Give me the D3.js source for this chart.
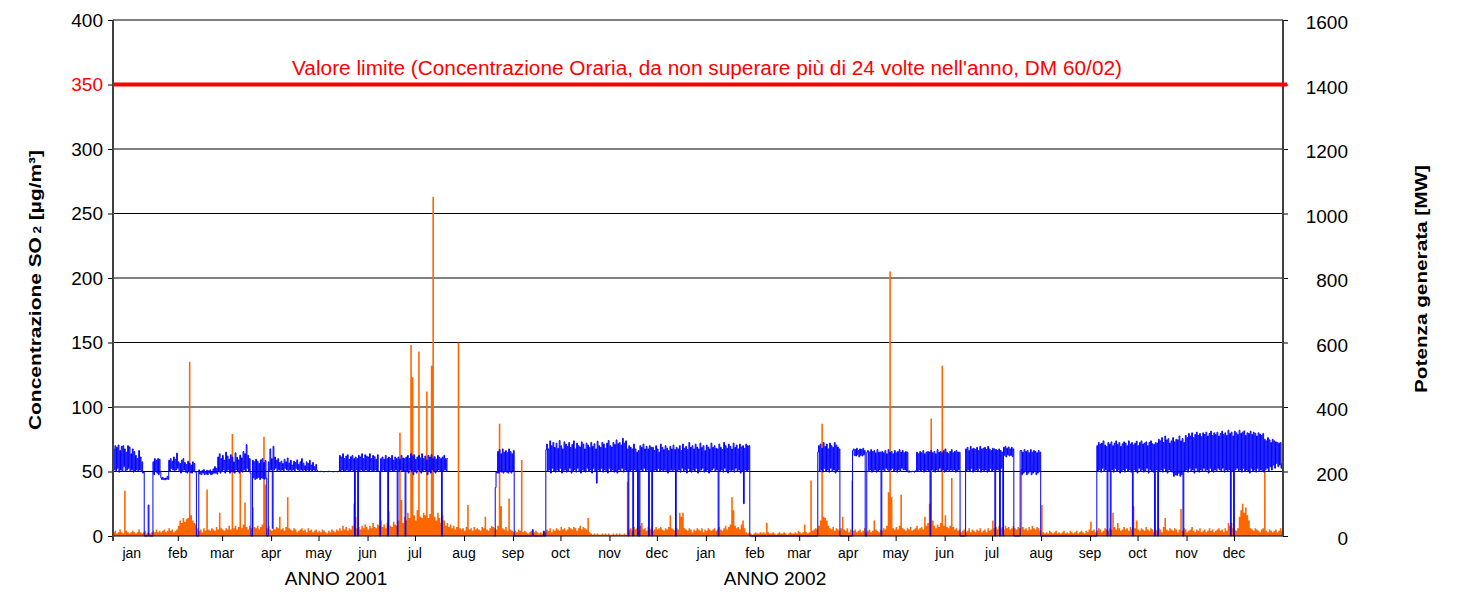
<!DOCTYPE html>
<html lang="it">
<head>
<meta charset="UTF-8">
<title>SO2 e potenza generata</title>
<script src="https://cdn.jsdelivr.net/npm/d3@7"></script>
<style>
  html, body { margin: 0; padding: 0; background: #fff; }
</style>
</head>
<body>
<div id="chart"></div>
<script>
// asse sinistro: concentrazione SO2 [µg/m3]
const so2Ticks = [0, 50, 100, 150, 200, 250, 300, 350, 400];
// asse destro: potenza generata [MW]
const powerTicks = [0, 200, 400, 600, 800, 1000, 1200, 1400, 1600];
const limitValue = 350;
const limitLabel = "Valore limite (Concentrazione Oraria, da non superare più di 24 volte nell'anno, DM 60/02)";
const monthNames = ['jan', 'feb', 'mar', 'apr', 'may', 'jun', 'jul', 'aug', 'sep', 'oct', 'nov', 'dec'];
const yearLabels = ['ANNO 2001', 'ANNO 2002'];

// SO2, massimo giornaliero (giorno 0 = 22/12/2000)
const so2 = [
  3,4,2,3,5,3,2,35,4,3, 2,3,4,3,2,3,5,3,2,3, 4,2,3,2,3,4,3,5,3,4, 3,4,5,3,4,6,4,5,3,4,
  5,8,12,10,14,11,13,14,135,16, 12,10,9,6,4,5,3,6,4,36, 5,4,6,5,4,7,5,18,6,5, 4,6,5,8,5,79,6,8,5,7,
  63,6,9,26,7,5,8,6,22,7, 6,8,5,7,9,77,40,6,8,5, 4,6,5,7,6,15,5,6,4,7, 30,6,5,4,6,5,3,4,5,6,
  4,5,3,6,4,5,3,4,5,3, 4,3,5,4,3,2,4,3,5,4, 3,5,4,6,4,8,5,7,4,6, 5,8,25,15,6,7,5,8,6,9,
  7,5,8,6,10,7,6,9,8,12, 7,9,6,10,19,8,7,11,9,8, 12,80,28,10,15,12,18,14,148,123, 16,12,20,143,15,14,18,16,112,14,
  17,132,263,15,12,18,14,10,16,12, 8,10,7,9,6,8,5,7,150,6, 5,6,4,7,24,5,6,4,7,5, 6,5,4,7,6,15,5,4,6,8,
  7,6,5,8,87,23,6,5,7,4, 29,5,4,3,4,3,5,4,59,3, 4,3,2,3,4,2,3,4,3,2, 3,2,4,3,5,4,6,3,5,4,
  6,5,4,7,5,6,4,5,7,6, 5,7,6,4,6,8,5,7,6,5, 14,3,2,1,2,1,2,1,1,2, 1,2,1,2,1,1,2,1,2,1,
  2,1,1,2,1,42,5,6,4,7, 5,6,4,8,10,5,6,4,7,5, 6,4,5,7,5,6,7,5,4,6, 5,7,16,6,5,4,6,5,18,15,
  18,6,5,4,6,5,3,5,4,6, 5,4,6,3,5,4,6,5,4,5, 6,4,5,7,5,4,6,8,5,7, 9,30,20,8,6,7,5,9,12,6,
  3,2,3,2,1,2,3,2,2,3, 2,3,2,10,3,2,2,3,2,1, 2,3,2,2,3,2,1,2,3,2, 2,3,2,4,3,2,3,9,3,2,
  3,43,4,5,6,5,8,12,87,15, 14,12,8,6,5,7,4,6,5,4, 6,15,5,4,6,3,5,43,4,5, 3,4,5,3,4,6,3,4,5,3,
  4,12,5,4,3,5,4,6,5,8, 34,205,30,6,5,7,5,8,32,6, 5,4,6,5,7,4,5,6,8,5, 6,7,5,15,8,10,25,91,12,8,
  6,9,7,10,132,8,16,7,6,8, 45,7,5,6,4,5,3,4,5,3, 4,6,3,5,4,3,5,4,6,3, 4,5,3,6,4,5,12,6,7,5,
  8,6,7,5,8,6,7,5,6,8, 6,5,7,6,52,7,5,6,4,7, 5,8,6,5,7,6,4,24,3,2, 3,2,4,3,2,3,4,2,3,2,
  3,4,2,3,2,4,3,2,3,4, 2,3,4,3,2,4,3,5,11,4, 5,3,4,6,5,3,4,6,5,4, 6,5,18,7,5,10,6,4,5,7,
  5,6,4,7,5,23,6,12,5,4, 6,5,4,7,5,4,6,5,3,5, 4,6,5,3,7,14,5,4,6,5, 4,6,5,3,5,21,4,6,5,3,
  4,5,7,4,3,5,4,6,3,4, 5,3,4,6,4,5,3,4,5,6, 4,5,3,6,4,10,8,10,6,5, 4,6,15,20,25,18,22,16,12,6,
  5,4,6,5,4,3,5,6,50,4, 3,5,4,3,4,5,3,4,6,4
];

// potenza generata: livello diurno (alto) e notturno (basso) per ogni giorno, null = dato mancante
const powerHi = [
  270,280,275,282,265,278,280,270,260,280, 276,255,270,262,250,240,265,245,230,200,
  0,0,96,0,0,230,240,235,240,238, 180,182,178,180,185,235,240,232,245,238,
  257,230,225,235,240,228,222,232,226,220, 230,225,200,0,205,200,203,206,200,204,
  202,205,200,208,215,210,245,255,240,250, 235,260,248,238,252,245,230,258,244,236,
  250,242,262,255,283,250,240,0,235,230, 238,232,225,236,240,228,234,0,230,270,
  240,278,245,235,240,228,232,225,238,230, 242,226,235,220,232,228,236,222,230,240,
  226,218,230,225,235,220,228,215,222,200, 200,201,200,199,200,200,201,200,200,199,
  200,200,201,250,245,255,240,248,252,238, 246,250,240,245,240,250,245,255,240,252,
  248,245,255,240,250,246,238,252,200,240, 245,238,250,240,245,240,250,235,245,240,
  245,238,250,242,240,245,250,240,255,248, 252,238,245,250,242,255,240,248,236,250,
  245,252,240,246,238,250,244,240,245,250, 240,240,null,null,null,null,null,null,null,null,
  null,null,null,null,null,null,null,null,null,null, null,null,null,null,null,null,null,null,null,null,
  null,0,200,262,268,255,270,260,265,258, 270,262,255,265,0,0,0,0,0,0,
  0,0,0,0,0,20,0,0,0,0, 0,0,15,0,285,270,295,280,290,275,
  288,272,296,280,270,292,285,278,290,275, 284,295,270,288,280,276,292,285,270,288,
  282,275,290,278,286,270,294,280,275,290, 285,272,288,296,280,276,290,284,298,286,
  290,282,303,288,295,270,280,275,270,285, 270,260,265,280,275,285,270,278,270,280,
  275,275,265,280,270,260,285,275,268,280, 272,265,278,270,282,268,275,270,280,265,
  285,272,278,268,290,275,280,270,285,276, 270,288,275,280,265,282,276,270,288,275,
  280,272,270,285,275,268,290,280,272,285, 278,270,288,275,282,270,285,276,280,272,
  285,280,280,0,0,0,0,0,0,0, 0,0,0,0,0,0,0,0,0,0,
  0,0,0,0,0,0,0,0,0,0, 0,0,0,0,0,0,0,0,0,0,
  0,0,0,0,0,0,280,285,272,290, 278,285,270,288,280,275,290,282,276,270,
  0,0,0,0,0,0,0,0,270,268, 272,265,270,268,272,265,0,265,260,268,
  262,265,258,268,260,260,262,258,265,255, 268,260,262,255,265,258,262,268,260,265,
  258,262,260,202,200,201,200,202,260,255, 262,258,265,255,260,262,260,265,258,262,
  255,268,260,262,258,265,270,260,255,262, 268,258,262,265,260,260,0,0,0,270,
  275,265,278,270,272,268,275,265,278,270, 272,275,268,278,270,265,272,270,268,265,
  270,265,260,275,278,272,276,270,275,270, 0,0,0,0,265,260,268,262,265,258,
  268,260,265,262,258,265,260,0,0,0, 0,0,0,0,0,0,0,0,0,0,
  0,0,0,0,0,0,0,0,0,0, 0,0,0,0,0,0,0,0,0,0,
  0,0,280,290,285,288,295,282,278,290, 285,292,280,288,295,284,290,278,286,292,
  288,280,295,285,290,282,288,294,280,290, 295,285,288,292,280,290,295,286,284,290,
  288,300,295,305,290,310,298,302,288,295, 305,292,300,298,310,295,302,290,312,305,
  318,310,320,305,315,322,312,318,308,320, 315,322,310,318,325,312,320,315,322,310,
  318,325,315,320,312,328,318,322,310,325, 320,315,328,318,322,326,312,320,318,325,
  315,322,318,310,320,316,312,318,300,295, 305,298,290,300,295,292,290,288,290,225
];
const powerLo = [
  205,200,210,198,205,200,215,200,205,210, 200,205,198,200,205,200,205,200,195,0,
  0,0,0,0,0,190,200,195,190,200, 175,175,174,176,175,200,210,205,200,205,
  210,200,195,200,205,198,195,200,196,195, 200,198,0,0,192,190,195,190,192,190,
  195,190,192,195,195,192,200,195,200,205, 195,200,205,195,200,198,195,205,200,195,
  200,198,205,200,210,200,195,0,180,175, 178,182,175,180,178,176,180,0,200,205,
  24,205,210,200,205,200,205,200,210,205, 200,205,200,205,200,210,205,200,205,200,
  205,200,205,200,205,200,205,200,205,200, 199,200,199,200,200,199,200,200,199,200,
  200,199,200,200,205,200,200,205,200,200, 205,200,0,205,0,200,205,200,200,205,
  200,200,205,200,200,205,200,200,0,200, 205,200,200,0,200,205,200,200,205,0,
  200,205,200,200,0,200,195,205,200,190, 200,195,205,200,195,200,205,200,190,200,
  195,205,200,195,200,205,200,0,200,205, 200,240,null,null,null,null,null,null,null,null,
  null,null,null,null,null,null,null,null,null,null, null,null,null,null,null,null,null,null,null,null,
  null,150,195,195,200,198,195,200,198,195, 200,195,200,0,0,0,0,0,0,0,
  0,0,0,0,0,0,0,0,0,0, 0,0,0,267,200,205,195,210,200,198,
  205,200,210,195,200,205,198,200,210,195, 200,205,198,210,200,195,205,200,198,210,
  200,205,195,210,200,164,205,200,210,198, 205,200,195,210,200,205,198,200,195,205,
  200,210,198,205,200,0,200,205,0,205, 200,0,0,205,200,210,200,205,0,200,
  0,200,205,200,210,200,205,200,205,200, 195,200,205,200,205,0,200,205,198,210,
  200,205,195,210,200,198,205,200,210,195, 200,205,210,198,200,205,195,200,205,210,
  200,205,0,200,205,198,210,200,195,205, 200,205,198,210,200,205,195,200,100,205,
  200,205,0,0,0,0,0,0,0,0, 0,0,0,0,0,0,0,0,0,0,
  0,0,0,0,0,0,0,0,0,0, 0,0,0,0,0,0,0,0,0,0,
  0,0,0,0,0,260,200,205,198,210, 200,205,198,210,200,205,195,200,205,0,
  0,0,0,0,0,0,0,265,250,248, 252,245,250,248,252,0,260,200,205,198,
  200,205,198,200,205,0,205,200,210,205, 200,205,210,200,205,198,205,200,210,205,
  205,200,198,198,199,200,198,200,200,205, 200,205,198,200,205,200,0,205,200,198,
  205,200,210,200,205,198,200,205,200,205, 200,205,198,200,205,0,0,0,0,200,
  205,200,210,198,200,205,200,210,198,205, 200,205,198,200,210,200,205,0,205,205,
  0,210,0,250,245,252,248,250,246,0, 0,0,0,265,190,195,200,190,195,200,
  190,195,200,190,195,200,0,0,0,0, 0,0,0,0,0,0,0,0,0,0,
  0,0,0,0,0,0,0,0,0,0, 0,0,0,0,0,0,0,0,0,0,
  0,0,200,205,198,210,200,205,0,200, 0,205,198,210,200,205,195,200,205,198,
  210,200,205,198,0,205,200,195,210,200, 205,198,200,210,195,205,200,198,0,205,
  0,200,205,198,210,200,195,205,200,198, 185,190,188,195,185,190,0,200,205,198,
  210,200,205,195,210,200,198,205,200,210, 200,205,195,210,200,198,205,200,210,205,
  200,210,198,205,200,205,0,200,0,205, 210,200,205,198,210,200,205,200,195,210,
  200,205,198,210,200,205,200,198,205,210, 200,215,205,220,210,225,215,220,210,225
];

const width = 1466;
const height = 594;
const plot = {left: 113, right: 1283, top: 20, bottom: 536};
const font = '"Liberation Sans", Arial, sans-serif';

// asse dei tempi: da 22/12/2000 a 1/1/2003
const startDay = Date.UTC(2000, 11, 22);
const endDay = Date.UTC(2003, 0, 1);
const dayMs = 864e5;
const toDate = t => new Date(startDay + t * dayMs);

const x = d3.scaleUtc().domain([new Date(startDay), new Date(endDay)]).range([plot.left, plot.right]);
const y = d3.scaleLinear().domain([0, 400]).range([plot.bottom, plot.top]);
const yR = d3.scaleLinear().domain([0, 1600]).range([plot.bottom, plot.top]);

const svg = d3.select('#chart').append('svg')
    .attr('width', width)
    .attr('height', height)
    .attr('font-family', font);

// griglia orizzontale
svg.append('g').selectAll('line').data(so2Ticks.filter(v => v > 0)).enter().append('line')
    .attr('x1', plot.left).attr('x2', plot.right)
    .attr('y1', d => y(d)).attr('y2', d => y(d))
    .attr('stroke', '#000').attr('stroke-width', 1);

// SO2 (area arancione)
const so2Points = so2.map((v, i) => ({t: i, v: v}));
so2Points.push({t: so2.length, v: so2[so2.length - 1]});
const area = d3.area().curve(d3.curveStepAfter)
    .x(d => x(toDate(d.t)))
    .y0(y(0))
    .y1(d => y(d.v));
svg.append('path').datum(so2Points).attr('d', area).attr('fill', '#FF6600');

// potenza (linea blu), giorno e notte a gradini
const powerPoints = [];
powerHi.forEach((v, i) => {
    powerPoints.push({t: i + 0.25, v: v});
    powerPoints.push({t: i + 0.75, v: powerLo[i]});
});
const line = d3.line()
    .defined(d => d.v !== null)
    .curve(d3.curveStepAfter)
    .x(d => x(toDate(d.t)))
    .y(d => yR(d.v));
svg.append('path').datum(powerPoints).attr('d', line)
    .attr('fill', 'none').attr('stroke', '#0000FF').attr('stroke-width', 1);

// assi
const yAxis = d3.axisLeft(y).tickValues(so2Ticks).tickSize(5).tickPadding(5).tickFormat(d3.format('d'));
const gY = svg.append('g').attr('transform', `translate(${plot.left},0)`).call(yAxis);
gY.select('.domain').remove();
gY.attr('font-family', font).attr('font-size', 19);
gY.selectAll('line').attr('stroke', '#000');
gY.selectAll('text').attr('fill', d => d === limitValue ? '#FF0000' : '#000');

const yAxisR = d3.axisRight(yR).tickValues(powerTicks).tickSize(5).tickPadding(5).tickFormat(d3.format('d'));
const gYR = svg.append('g').attr('transform', `translate(${plot.right},0)`).call(yAxisR);
gYR.select('.domain').remove();
gYR.attr('font-family', font).attr('font-size', 19);
gYR.selectAll('line').attr('stroke', '#000');
gYR.selectAll('text').attr('fill', '#000').attr('text-anchor', 'end').attr('x', 65).attr('dy', '0.45em');

const monthStarts = d3.utcMonth.range(new Date(Date.UTC(2001, 0, 1)), new Date(endDay));
const xAxis = d3.axisBottom(x).tickValues(monthStarts.slice(1)).tickSize(5).tickFormat('');
const gX = svg.append('g').attr('transform', `translate(0,${plot.bottom})`).call(xAxis);
gX.select('.domain').remove();
gX.selectAll('line').attr('stroke', '#000');

svg.append('line').attr('x1', plot.left).attr('x2', plot.right)
    .attr('y1', plot.bottom).attr('y2', plot.bottom).attr('stroke', '#000');
svg.append('line').attr('x1', plot.left).attr('x2', plot.left)
    .attr('y1', plot.top).attr('y2', plot.bottom + 5).attr('stroke', '#404040').attr('stroke-width', 2);
svg.append('line').attr('x1', plot.right).attr('x2', plot.right)
    .attr('y1', plot.top).attr('y2', plot.bottom).attr('stroke', '#404040').attr('stroke-width', 2);

// etichette dei mesi
svg.append('g').selectAll('text').data(monthStarts).enter().append('text')
    .attr('x', (d, i) => x(d) + (i === 0 ? 3 : 0)).attr('y', 558)
    .attr('text-anchor', 'middle').attr('font-size', 14)
    .text(d => monthNames[d.getUTCMonth()]);

svg.append('g').selectAll('text').data(yearLabels).enter().append('text')
    .attr('x', (d, i) => [336, 775][i]).attr('y', 585)
    .attr('text-anchor', 'middle').attr('font-size', 19)
    .text(d => d);

// valore limite
svg.append('line').attr('x1', plot.left).attr('x2', plot.right + 4)
    .attr('y1', y(limitValue)).attr('y2', y(limitValue))
    .attr('stroke', '#FF0000').attr('stroke-width', 4);
svg.append('text').attr('x', 707).attr('y', 75)
    .attr('text-anchor', 'middle').attr('font-size', 19.5).attr('fill', '#FF0000')
    .attr('textLength', 830).attr('lengthAdjust', 'spacingAndGlyphs')
    .text(limitLabel);

// titoli degli assi
const tl = svg.append('text').attr('transform', 'translate(41,290) rotate(-90)')
    .attr('text-anchor', 'middle').attr('font-size', 17).attr('font-weight', 'bold')
    .attr('textLength', 280).attr('lengthAdjust', 'spacingAndGlyphs');
tl.append('tspan').text('Concentrazione SO');
tl.append('tspan').attr('font-size', 11).attr('dx', 3).text('2');
tl.append('tspan').text(' [µg/m³]');

svg.append('text').attr('transform', 'translate(1427,279) rotate(-90)')
    .attr('text-anchor', 'middle').attr('font-size', 17).attr('font-weight', 'bold')
    .attr('textLength', 228).attr('lengthAdjust', 'spacingAndGlyphs')
    .text('Potenza generata [MW]');
</script>
</body>
</html>
